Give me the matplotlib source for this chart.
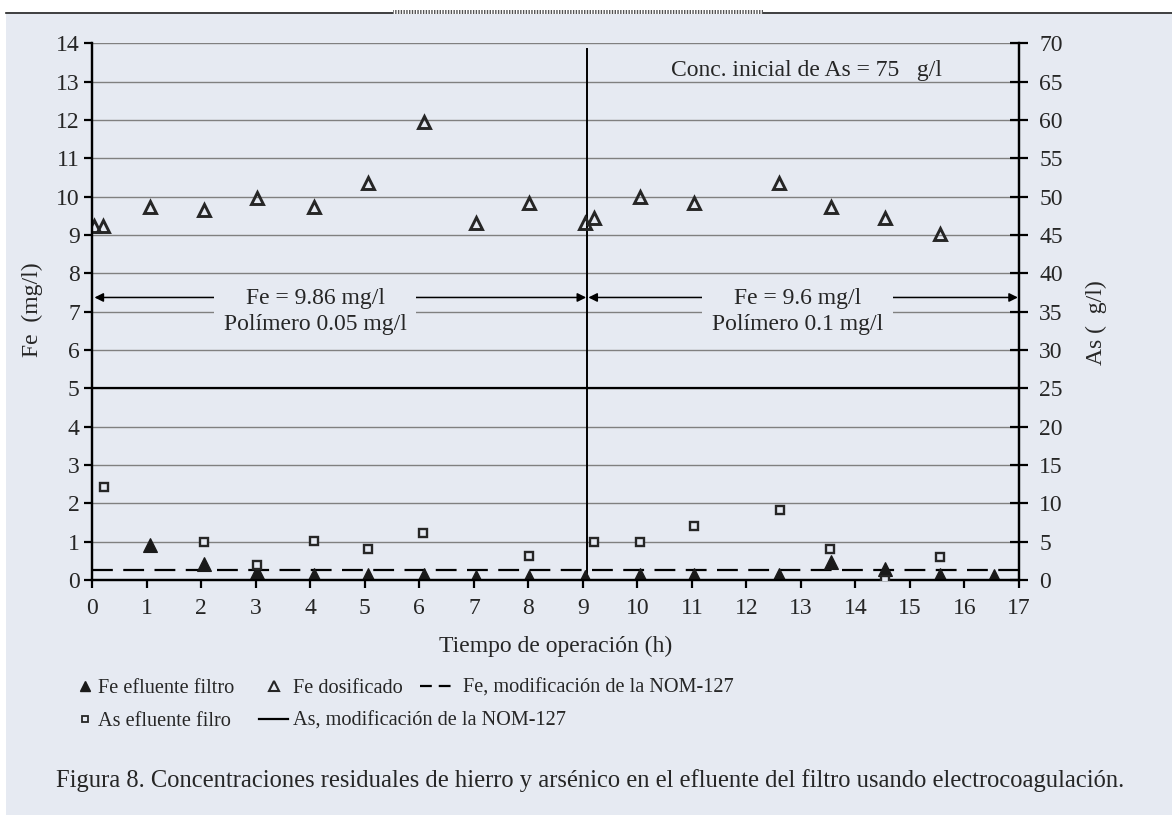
import matplotlib
matplotlib.use("Agg")
import matplotlib.pyplot as plt
from matplotlib.patches import Rectangle
from matplotlib.lines import Line2D

# ---------------- data ----------------
fe_dos_t = [0.03, 0.2, 1.05, 2.04, 3.03, 4.07, 5.05, 6.08, 7.03, 8.02, 9.03, 9.2,
            10.04, 11.04, 12.6, 13.55, 14.55, 15.55]
fe_dos = [9.23, 9.23, 9.74, 9.65, 9.96, 9.74, 10.35, 11.95, 9.32, 9.84, 9.30, 9.43,
          10.0, 9.84, 10.35, 9.74, 9.43, 9.03]

fe_eff_t = [1.05, 2.04, 3.03, 4.07, 5.05, 6.08, 7.03, 8.02, 9.03, 10.04, 11.04, 12.6,
            13.55, 14.55, 15.55, 16.55]
fe_eff = [0.9, 0.43, 0.2, 0.13, 0.13, 0.13, 0.09, 0.09, 0.09, 0.13, 0.13, 0.13,
          0.46, 0.28, 0.13, 0.1]

as_eff_t = [0.21, 2.04, 3.03, 4.07, 5.05, 6.07, 8.01, 9.2, 10.04, 11.03, 12.62, 13.53,
            14.55, 15.55]
as_eff = [12.1, 5.0, 2.0, 5.1, 4.0, 6.1, 3.1, 5.0, 5.0, 7.0, 9.1, 4.1, 0.0, 3.0]

fe_nom = 0.26        # Fe limit (mg/l)
as_nom = 25          # As limit (ug/l)
split_t = 9.08       # change of polymer dose
split_top = 13.85
period_labels = ["Fe = 9.86 mg/l\nPolímero 0.05 mg/l", "Fe = 9.6 mg/l\nPolímero 0.1 mg/l"]
period_centers = [4.09, 12.94]
arrow_y = 7.37
period_spans = [(0.04, 9.06), (9.10, 16.98)]

x_ticks = list(range(0, 18))
fe_ticks = list(range(0, 15))
as_ticks = list(range(0, 75, 5))

# ---------------- style ----------------
W, H = 1172, 815
BG = "#E6EAF2"
INK = "#262626"
GRID = "#808080"
FONT = "Liberation Serif"
FS = 17        # in-plot text, axis labels, ticks
FS_LEG = 14.6  # legend
FS_CAP = 17.7  # caption

plt.rcParams["font.family"] = [FONT, "DejaVu Serif"]
plt.rcParams["lines.scale_dashes"] = False
plt.rcParams["text.color"] = INK

fig = plt.figure(figsize=(W / 100, H / 100), dpi=100)
fig.patch.set_facecolor(BG)

# white margins / top rule / decorative strip
fig.add_artist(Rectangle((0, (H - 12) / H), 1, 12 / H, transform=fig.transFigure,
                         facecolor="white", edgecolor="none", zorder=0))
fig.add_artist(Rectangle((0, 0), 6 / W, 1, transform=fig.transFigure,
                         facecolor="white", edgecolor="none", zorder=0))
fig.add_artist(Line2D([6 / W, 1], [(H - 12.5) / H] * 2, transform=fig.transFigure,
                      color="#222222", lw=1.2, zorder=1))
fig.add_artist(Rectangle((393 / W, (H - 14) / H), 370 / W, 4 / H, transform=fig.transFigure,
                         facecolor="white", edgecolor="#555555", hatch="||||||", lw=0, zorder=1))

L, R, B, T = 92.3, 1019, 580, 43.3
ax = fig.add_axes([L / W, 1 - B / H, (R - L) / W, (B - T) / H])
ax.set_facecolor("none")
ax.set_xlim(0, 17)
ax.set_ylim(0, 14)
ax2 = ax.twinx()
ax2.set_ylim(0, 70)

ax.set_xticks(x_ticks)
ax.set_yticks(fe_ticks)
ax2.set_yticks(as_ticks)
ax.yaxis.grid(True, color=GRID, lw=1.0)
ax.set_axisbelow(True)

ax.spines["top"].set_visible(False)
ax2.spines["top"].set_visible(False)
for a in (ax, ax2):
    for s in ["left", "right", "bottom"]:
        a.spines[s].set_color("black")
        a.spines[s].set_linewidth(1.6)

ax.tick_params(axis="y", direction="out", length=6, width=1.6, color="black",
               labelsize=FS, labelcolor=INK, pad=3)
ax.tick_params(axis="x", direction="out", length=6, width=1.6, color="black",
               labelsize=FS, labelcolor=INK, pad=7)
ax2.tick_params(axis="y", direction="inout", length=13, width=1.6, color="black",
                labelsize=FS, labelcolor=INK, pad=8)

ax.set_xlabel("Tiempo de operación (h)", fontsize=FS, color=INK, labelpad=12)
ax.set_ylabel("Fe  (mg/l)", fontsize=FS, color=INK)
ax2.set_ylabel("As (  g/l)", fontsize=FS, color=INK)
ax.yaxis.set_label_coords(-0.053, 0.503)
ax2.yaxis.set_label_coords(1.0725, 0.48)

# limits
h_fe_nom, = ax.plot([0, 17], [fe_nom, fe_nom], color="black", lw=1.6,
                    dashes=(15, 7.5), zorder=3)
h_as_nom = ax2.axhline(as_nom, color="black", lw=1.6, zorder=3)
ax.plot([split_t, split_t], [0, split_top], color="black", lw=1.4, zorder=3)

# data
h_fe_dos, = ax.plot(fe_dos_t, fe_dos, ls="none", marker="^", ms=9, mfc="none",
                    mec=INK, mew=2.1, zorder=5)
h_fe_eff, = ax.plot(fe_eff_t, fe_eff, ls="none", marker="^", ms=10, mfc="#1a1a1a",
                    mec="#1a1a1a", mew=0.8, zorder=6)
h_as_eff, = ax2.plot(as_eff_t, as_eff, ls="none", marker="s", ms=6.3, mfc=BG,
                     mec=INK, mew=1.7, zorder=5)

# period arrows + boxes
for (x0, x1), xc, lab in zip(period_spans, period_centers, period_labels):
    ax.annotate("", xy=(x0, arrow_y), xytext=(x1, arrow_y),
                arrowprops=dict(arrowstyle="<|-|>", color="black", lw=1.1,
                                mutation_scale=13, shrinkA=0, shrinkB=0), zorder=4)
    ax.text(xc, arrow_y - 0.36, lab, ha="center", va="center", fontsize=FS,
            color=INK, linespacing=1.3, zorder=7,
            bbox=dict(facecolor=BG, edgecolor="none", pad=7))

ax.text(13.1, 13.3, "Conc. inicial de As = 75   g/l", ha="center", va="center",
        fontsize=FS, color=INK, zorder=7)

# legend (three column groups)
h_fe_nom_key = Line2D([], [], color="black", lw=1.6, dashes=(8.5, 5))
h_as_eff_key = Line2D([], [], ls="none", marker="s", ms=5, mfc=BG, mec=INK, mew=1.3)
h_fe_eff_key = Line2D([], [], ls="none", marker="^", ms=7.5, mfc="#1a1a1a", mec="#1a1a1a")
h_fe_dos_key = Line2D([], [], ls="none", marker="^", ms=7, mfc="none", mec=INK, mew=1.5)
h_as_nom_key = Line2D([], [], color="black", lw=1.6)

common = dict(frameon=False, fontsize=FS_LEG, borderpad=0, borderaxespad=0,
              loc="center left", labelcolor=INK)
leg1 = fig.legend([h_fe_eff_key, h_as_eff_key], ["Fe efluente filtro", "As efluente filro"],
                  bbox_to_anchor=(79 / W, 1 - 705 / H), handlelength=0.6,
                  handletextpad=0.35, labelspacing=0.65, **common)
leg2 = fig.legend([h_fe_dos_key, h_as_nom_key], ["Fe dosificado", "As, modificación de la NOM-127"],
                  bbox_to_anchor=(259 / W, 1 - 705 / H), handlelength=1.45,
                  handletextpad=0.25, labelspacing=0.65, **common)
leg3 = fig.legend([h_fe_nom_key], ["Fe, modificación de la NOM-127"],
                  bbox_to_anchor=(420 / W, 1 - 688 / H), handlelength=1.75,
                  handletextpad=0.35, **common)

fig.text(590 / W, 1 - 781 / H,
         "Figura 8. Concentraciones residuales de hierro y arsénico en el efluente del filtro usando electrocoagulación.",
         ha="center", va="center", fontsize=FS_CAP, color=INK)

fig.savefig("out.png", dpi=100, facecolor=fig.get_facecolor())
